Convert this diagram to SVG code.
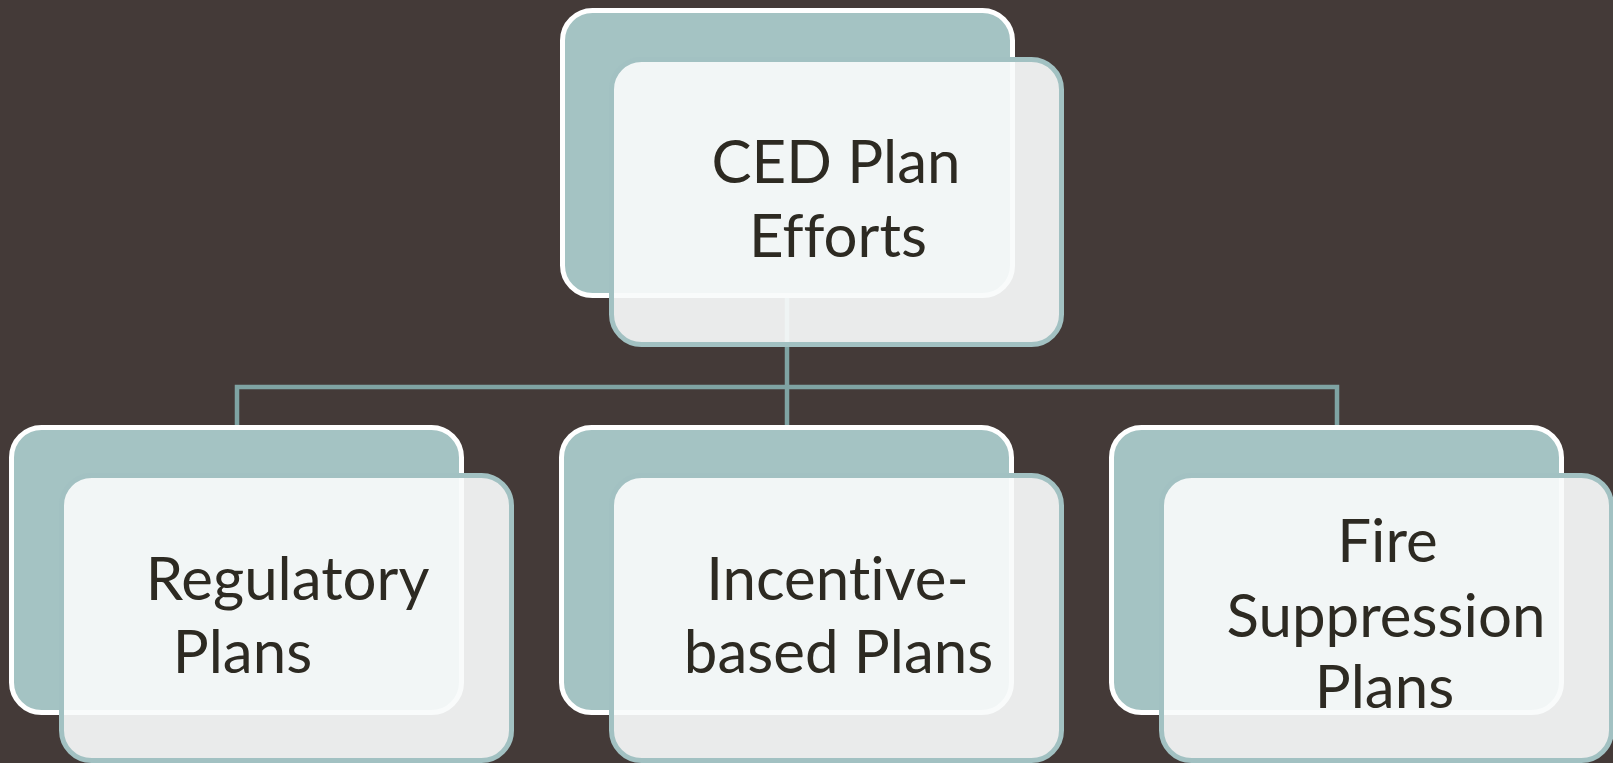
<svg xmlns="http://www.w3.org/2000/svg" width="1613" height="763" viewBox="0 0 1613 763">
<style>
.back{fill:#a4c3c3;stroke:#ffffff;stroke-width:5}
.front{fill:#f8fbfb;fill-opacity:0.92;stroke:#a2c1c2;stroke-width:5}
.conn{fill:none;stroke:#7fa3a3;stroke-width:4.5;stroke-linejoin:miter}
.lbl{font-family:Lato,"Open Sans","Liberation Sans",sans-serif;font-size:60px;fill:#2d2a22;text-anchor:middle;font-variant-ligatures:none;font-feature-settings:"liga" 0,"dlig" 0}
</style>
<rect x="0" y="0" width="1613" height="763" fill="#443a38"/>
<g id="connectors">
<polyline class="conn" points="787,296 787,387"/>
<polyline class="conn" points="237,427 237,387 1337,387 1337,427"/>
<polyline class="conn" points="787,387 787,427"/>
</g>
<g id="node-ced">
<rect class="back" x="562.5" y="10.5" width="450" height="285" rx="30"/>
<rect class="front" x="611.5" y="59.5" width="450" height="285" rx="30"/>
<text class="lbl" x="836" y="183">CED Plan</text>
<text class="lbl" x="838" y="257">Efforts</text>
</g>
<g id="node-regulatory">
<rect class="back" x="11.5" y="427.5" width="450" height="285" rx="30"/>
<rect class="front" x="61.5" y="475.5" width="450" height="285" rx="30"/>
<text class="lbl" x="287.5" y="600">Regulatory</text>
<text class="lbl" x="242.5" y="673">Plans</text>
</g>
<g id="node-incentive">
<rect class="back" x="561.5" y="427.5" width="450" height="285" rx="30"/>
<rect class="front" x="611.5" y="475.5" width="450" height="285" rx="30"/>
<text class="lbl" x="837.5" y="600">Incentive-</text>
<text class="lbl" x="838.5" y="673">based Plans</text>
</g>
<g id="node-fire">
<rect class="back" x="1111.5" y="427.5" width="450" height="285" rx="30"/>
<rect class="front" x="1161.5" y="475.5" width="450" height="285" rx="30"/>
<text class="lbl" x="1387.5" y="562">Fire</text>
<text class="lbl" x="1386" y="637">Suppression</text>
<text class="lbl" x="1384.5" y="708">Plans</text>
</g>
</svg>
